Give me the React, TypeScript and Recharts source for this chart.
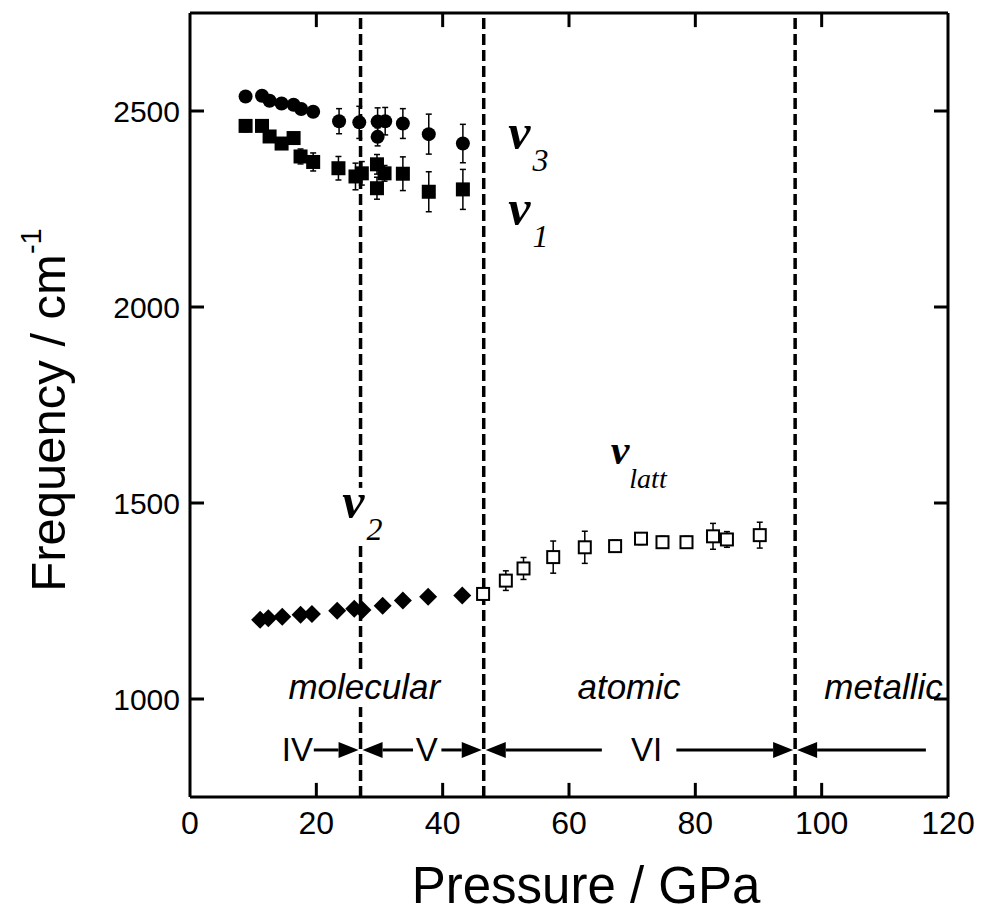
import {
  ErrorBar,
  Label,
  ReferenceDot,
  ReferenceLine,
  Scatter,
  ScatterChart,
  XAxis,
  YAxis,
} from 'recharts';

// nu3 (filled circles)
const nu3Pressure = [8.8, 11.4, 12.6, 14.5, 16.4, 17.6, 19.5, 23.6, 26.8, 29.7, 30.9, 29.7, 33.7, 37.8, 43.2];
const nu3Freq = [2537, 2539, 2526, 2519, 2516, 2505, 2498, 2474, 2471, 2473, 2474, 2434, 2468, 2441, 2417];
const nu3Err = [8, 8, 8, 8, 8, 8, 8, 32, 41, 35, 35, 23, 38, 51, 49];

// nu1 (filled squares)
const nu1Pressure = [8.8, 11.4, 12.6, 14.5, 16.4, 17.5, 19.5, 23.5, 26.2, 27.2, 29.6, 30.8, 29.6, 33.7, 37.8, 43.2];
const nu1Freq = [2462, 2462, 2435, 2417, 2431, 2384, 2370, 2354, 2333, 2341, 2364, 2341, 2303, 2340, 2294, 2300];
const nu1Err = [15, 10, 10, 10, 10, 19, 23, 30, 34, 30, 25, 20, 28, 43, 51, 51];

// nu2 (filled diamonds)
const nu2Pressure = [11.1, 12.4, 14.6, 17.5, 19.3, 23.3, 26.0, 27.3, 30.5, 33.7, 37.7, 43.1];
const nu2Freq = [1202, 1206, 1210, 1215, 1217, 1225, 1230, 1227, 1238, 1251, 1261, 1264];

// lattice mode (open squares)
const lattPressure = [46.4, 50.0, 52.8, 57.5, 62.5, 67.3, 71.4, 74.8, 78.6, 82.8, 85.0, 90.2];
const lattFreq = [1268, 1302, 1333, 1362, 1387, 1390, 1409, 1400, 1400, 1415, 1407, 1418];
const lattErr = [12, 25, 28, 41, 41, 15, 15, 15, 15, 33, 20, 33];

// phase boundaries and phase labels
const boundaries = [27, 46.5, 95.8];
const phaseRow = 870;
const phaseNames = ['IV', 'V', 'VI'];
const phaseNameAt = [17.0, 37.5, 72.3];
const arrowFrom = [19.6, 35.3, 39.8, 65.2, 77.0, 116.5];
const arrowTo = [27, 27, 46.5, 46.5, 95.8, 95.8];

const regimeNames = ['molecular', 'atomic', 'metallic'];
const regimeAt = [27.6, 69.5, 109.8];
const regimeFreq = 1000;

const modeSymbols = ['3', '1', '2', 'latt'];
const modeAt = [50.4, 50.4, 24.1, 66.6];
const modeFreq = [2402, 2210, 1462, 1600];

const xDomain = [0, 120];
const yDomain = [750, 2750];
const xTicks = [0, 20, 40, 60, 80, 100, 120];
const yTicks = [1000, 1500, 2000, 2500];

const zip = (xs: number[], ys: number[], es?: number[]) =>
  xs.map((x, i) => ({ x, y: ys[i], err: es ? es[i] : 0 }));

const SANS = '"Liberation Sans", Arial, Helvetica, sans-serif';
const SERIF = '"Liberation Serif", "Times New Roman", serif';
const TICK = 14;
// inward tick length along the frequency axis, in axis units (about 14px)
const X_TICK_LEN = 36;

const Circle = (p: any) => <circle cx={p.cx} cy={p.cy} r={7} fill="#000" />;
const Square = (p: any) => <rect x={p.cx - 7} y={p.cy - 7} width={14} height={14} fill="#000" />;
const Diamond = (p: any) => (
  <polygon
    points={`${p.cx},${p.cy - 9} ${p.cx + 9},${p.cy} ${p.cx},${p.cy + 9} ${p.cx - 9},${p.cy}`}
    fill="#000"
  />
);
const OpenSquare = (p: any) => (
  <rect x={p.cx - 6} y={p.cy - 6} width={12} height={12} fill="#fff" stroke="#000" strokeWidth={2} />
);

// inward ticks drawn by hand
const leftTick = (p: any) => {
  const ax = p.x + 10;
  return (
    <g>
      <line x1={ax} y1={p.y} x2={ax + TICK} y2={p.y} stroke="#000" strokeWidth={3} />
      <text x={p.x} y={p.y} textAnchor="end" dominantBaseline="central" fontFamily={SANS} fontSize={30} fill="#000">
        {p.payload.value}
      </text>
    </g>
  );
};
const bottomTick = (p: any) => (
  <text x={p.x} y={p.y} textAnchor="middle" dominantBaseline="hanging" fontFamily={SANS} fontSize={32} fill="#000">
    {p.payload.value}
  </text>
);
const rightTick = (p: any) => <line x1={p.x} y1={p.y} x2={p.x - TICK} y2={p.y} stroke="#000" strokeWidth={3} />;

const arrowShape = (p: any) => {
  const dir = p.x2 > p.x1 ? 1 : -1;
  const len = 22;
  const half = 8;
  const bx = p.x2 - dir * len;
  return (
    <g>
      <line x1={p.x1} y1={p.y1} x2={bx} y2={p.y2} stroke="#000" strokeWidth={3} />
      <polygon points={`${p.x2 - dir * 2},${p.y2} ${bx},${p.y2 - half} ${bx},${p.y2 + half}`} fill="#000" />
    </g>
  );
};

const plainText = (text: string, size: number, italic: boolean, bg: boolean) => (p: any) => {
  const w = text.length * size * 0.52;
  return (
    <g>
      {bg && <rect x={p.cx - w / 2 - 4} y={p.cy - size * 0.82} width={w + 8} height={size * 1.05} fill="#fff" />}
      <text
        x={p.cx}
        y={p.cy}
        textAnchor="middle"
        fontFamily={SANS}
        fontSize={size}
        fontStyle={italic ? 'italic' : 'normal'}
        fill="#000"
      >
        {text}
      </text>
    </g>
  );
};

const phaseText = (text: string) => (p: any) => (
  <text x={p.cx} y={p.cy} textAnchor="middle" dominantBaseline="central" fontFamily={SANS} fontSize={33} fill="#000">
    {text}
  </text>
);

const nuText = (sub: string) => (p: any) => {
  const big = sub === 'latt' ? 42 : 50;
  const small = sub === 'latt' ? 28 : 32;
  return (
    <g>
      {sub === '2' && <rect x={p.cx - 4} y={p.cy - 30} width={48} height={58} fill="#fff" />}
      <text x={p.cx} y={p.cy} fontFamily={SERIF} fontStyle="italic" fontWeight="bold" fontSize={big} fill="#000">
        ν
        <tspan dx={sub === 'latt' ? 0 : 2} dy={sub === 'latt' ? 24 : 22} fontSize={small} fontWeight="normal">
          {sub}
        </tspan>
      </text>
    </g>
  );
};

const yLabel = (props: any) => {
  const vb = props.viewBox;
  const cx = 48;
  const cy = vb.y + vb.height / 2 + 5;
  return (
    <text
      x={cx}
      y={cy}
      transform={`rotate(-90, ${cx}, ${cy})`}
      textAnchor="middle"
      dominantBaseline="central"
      fontFamily={SANS}
      fontSize={49}
      fill="#000"
    >
      Frequency / cm
      <tspan dy={-17} fontSize={29}>
        -1
      </tspan>
    </text>
  );
};

const xLabel = (props: any) => {
  const vb = props.viewBox;
  return (
    <text
      x={vb.x + vb.width / 2 + 17}
      y={vb.y + 106}
      textAnchor="middle"
      fontFamily={SANS}
      fontSize={51}
      fill="#000"
    >
      Pressure / GPa
    </text>
  );
};

const frame = { stroke: '#000', strokeWidth: 3 };

export default function App() {
  const innerXTicks = xTicks.slice(1, -1);
  return (
    <div style={{ position: 'absolute', left: 0, top: 0, background: '#fff' }}>
      <ScatterChart width={986} height={916} margin={{ top: 12, right: 37, bottom: 0, left: 0 }}>
        <XAxis
          type="number"
          dataKey="x"
          domain={xDomain}
          ticks={xTicks}
          allowDataOverflow
          height={119}
          axisLine={frame}
          tickLine={false}
          tickSize={0}
          tickMargin={14}
          tick={bottomTick}
        >
          <Label content={xLabel} />
        </XAxis>
        <XAxis
          xAxisId="top"
          orientation="top"
          type="number"
          domain={xDomain}
          allowDataOverflow
          height={1}
          axisLine={frame}
          tickLine={false}
          tick={false}
        />
        <YAxis
          type="number"
          dataKey="y"
          domain={yDomain}
          ticks={yTicks}
          allowDataOverflow
          width={190}
          axisLine={frame}
          tickLine={false}
          tickSize={0}
          tickMargin={10}
          tick={leftTick}
        >
          <Label content={yLabel} />
        </YAxis>
        <YAxis
          yAxisId="right"
          orientation="right"
          type="number"
          domain={yDomain}
          ticks={yTicks}
          allowDataOverflow
          width={1}
          axisLine={frame}
          tickLine={false}
          tickSize={0}
          tickMargin={0}
          tick={rightTick}
        />

        {innerXTicks.map((t) => (
          <ReferenceLine
            key={`tb${t}`}
            segment={[
              { x: t, y: yDomain[0] },
              { x: t, y: yDomain[0] + X_TICK_LEN },
            ]}
            ifOverflow="visible"
            stroke="#000"
            strokeWidth={3}
          />
        ))}
        {innerXTicks.map((t) => (
          <ReferenceLine
            key={`tt${t}`}
            segment={[
              { x: t, y: yDomain[1] },
              { x: t, y: yDomain[1] - X_TICK_LEN },
            ]}
            ifOverflow="visible"
            stroke="#000"
            strokeWidth={3}
          />
        ))}

        {boundaries.map((b) => (
          <ReferenceLine key={`b${b}`} x={b} stroke="#000" strokeWidth={3.5} strokeDasharray="11 5" />
        ))}

        {regimeNames.map((name, i) => (
          <ReferenceDot
            key={name}
            x={regimeAt[i]}
            y={regimeFreq}
            r={0}
            shape={plainText(name, 35, true, name === 'molecular')}
          />
        ))}

        {arrowFrom.map((a, i) => (
          <ReferenceLine
            key={`a${i}`}
            segment={[
              { x: a, y: phaseRow },
              { x: arrowTo[i], y: phaseRow },
            ]}
            shape={arrowShape}
          />
        ))}
        {phaseNames.map((name, i) => (
          <ReferenceDot key={name} x={phaseNameAt[i]} y={phaseRow} r={0} shape={phaseText(name)} />
        ))}

        {modeSymbols.map((s, i) => (
          <ReferenceDot key={`m${s}`} x={modeAt[i]} y={modeFreq[i]} r={0} shape={nuText(s)} />
        ))}

        <Scatter data={zip(nu3Pressure, nu3Freq, nu3Err)} shape={Circle} isAnimationActive={false}>
          <ErrorBar dataKey="err" direction="y" width={3} stroke="#000" strokeWidth={1.5} />
        </Scatter>
        <Scatter data={zip(nu1Pressure, nu1Freq, nu1Err)} shape={Square} isAnimationActive={false}>
          <ErrorBar dataKey="err" direction="y" width={3} stroke="#000" strokeWidth={1.5} />
        </Scatter>
        <Scatter data={zip(nu2Pressure, nu2Freq)} shape={Diamond} isAnimationActive={false} />
        <Scatter data={zip(lattPressure, lattFreq, lattErr)} shape={OpenSquare} isAnimationActive={false}>
          <ErrorBar dataKey="err" direction="y" width={3} stroke="#000" strokeWidth={1.5} />
        </Scatter>
      </ScatterChart>
    </div>
  );
}
